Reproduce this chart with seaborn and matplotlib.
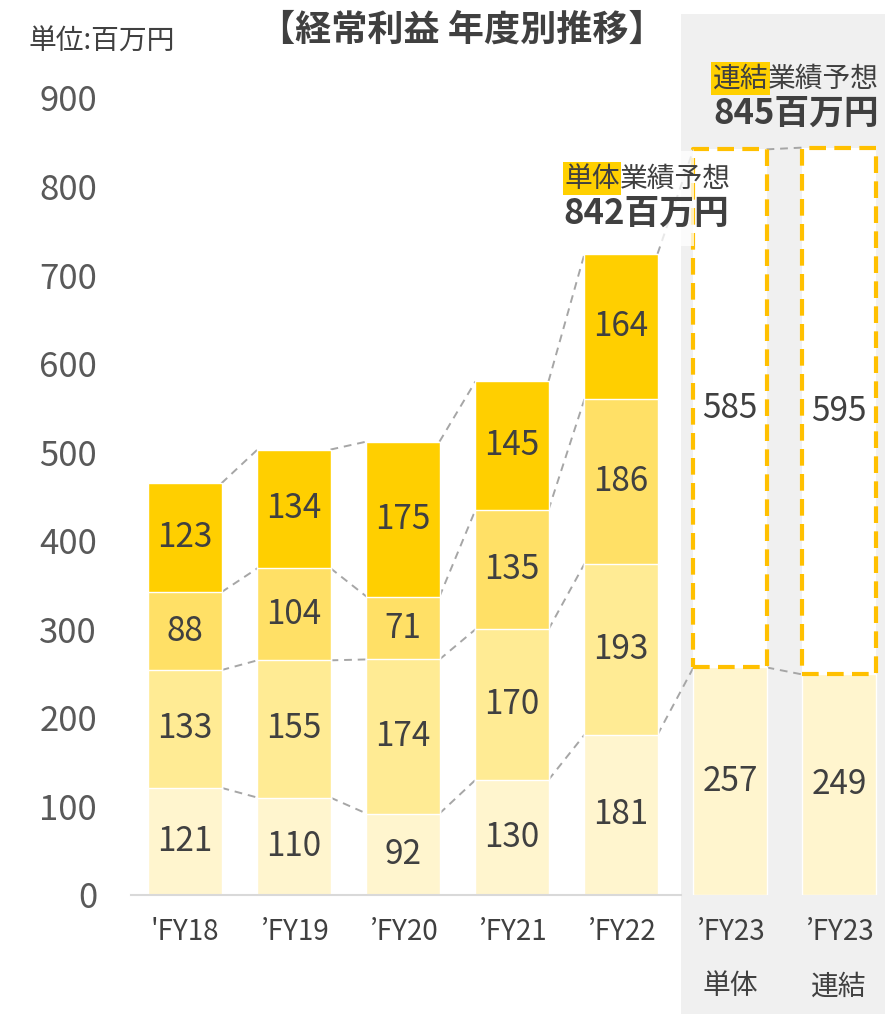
import pandas as pd
import matplotlib.pyplot as plt
import matplotlib.transforms as mtransforms
from matplotlib.patches import Rectangle
import seaborn as sns

# Data (百万円)
years = ["'FY18", "’FY19", "’FY20", "’FY21", "’FY22", "’FY23\n単体", "’FY23\n連結"]
q1 = [121, 110, 92, 130, 181, 257, 249]
q2 = [133, 155, 174, 170, 193]
q3 = [88, 104, 71, 135, 186]
q4 = [123, 134, 175, 145, 164]
rest = [585, 595]          # forecast remainder above Q1 for FY23
forecast_labels = ["842百万円", "845百万円"]
yticks = [0, 100, 200, 300, 400, 500, 600, 700, 800, 900]

colors = ["#FFF5CE", "#FFEB94", "#FFE066", "#FFCF00"]
text_color = "#404040"
bar_w = 0.67

sns.set_style("white")
plt.rcParams['font.family'] = ['Noto Sans CJK JP', 'DejaVu Sans']

fig = plt.figure(figsize=(8.85, 10.14), dpi=100)
ax = fig.add_axes([130.5 / 885, 119 / 1014, 763 / 885, 797 / 1014])
ax.set_facecolor("none")

# gray background behind FY23 columns
trans = mtransforms.blended_transform_factory(ax.transData, fig.transFigure)
fig.patches.append(Rectangle((4.55, 0), 3, 1 - 14 / 1014, transform=trans,
                             facecolor="#F0F0F0", edgecolor="none", zorder=-10))

# stacked layers (cumulative, tallest first)
hist = pd.DataFrame({"year": years[:5], "q1": q1[:5], "q2": q2, "q3": q3, "q4": q4})
hist["c1"] = hist["q1"]
hist["c2"] = hist["c1"] + hist["q2"]
hist["c3"] = hist["c2"] + hist["q3"]
hist["c4"] = hist["c3"] + hist["q4"]

for col, c in zip(["c4", "c3", "c2"], colors[::-1]):
    sns.barplot(data=hist, x="year", y=col, order=years, color=c,
                width=bar_w, saturation=1, ax=ax, zorder=2)
q1_df = pd.DataFrame({"year": years, "q1": q1})
sns.barplot(data=q1_df, x="year", y="q1", order=years, color=colors[0],
            width=bar_w, saturation=1, ax=ax, zorder=2)

# forecast boxes (remaining part above Q1)
fc_pos = [5, 6]
tops = [a + r for a, r in zip(q1[5:], rest)]
ax.bar(fc_pos, rest, bottom=q1[5:], width=bar_w, facecolor="white",
       edgecolor="#FFC000", linewidth=3, linestyle=(0, (4, 2)),
       joinstyle="round", zorder=3)

# value labels
for i in range(5):
    bottoms = [0, hist["c1"][i], hist["c2"][i], hist["c3"][i]]
    for b, v in zip(bottoms, [q1[i], q2[i], q3[i], q4[i]]):
        ax.text(i, b + v / 2, str(v), ha="center", va="center",
                fontsize=24, color=text_color, zorder=5)
for j, p in enumerate(fc_pos):
    ax.text(p, q1[p] / 2, str(q1[p]), ha="center", va="center",
            fontsize=24, color=text_color, zorder=5)
    ax.text(p, q1[p] + rest[j] / 2, str(rest[j]), ha="center", va="center",
            fontsize=24, color=text_color, zorder=5)

# dashed connector lines
levels = [list(hist[c]) for c in ["c1", "c2", "c3", "c4"]]
line_kw = dict(color="#A6A6A6", linestyle=(0, (4, 3)), linewidth=1.4, zorder=1)
for i in range(4):
    for lv in levels:
        ax.plot([i + bar_w / 2, i + 1 - bar_w / 2], [lv[i], lv[i + 1]], **line_kw)
ax.plot([4 + bar_w / 2, 5 - bar_w / 2], [levels[0][4], q1[5]], **line_kw)
ax.plot([4 + bar_w / 2, 5 - bar_w / 2], [levels[3][4], tops[0]], **line_kw)
ax.plot([5 + bar_w / 2, 6 - bar_w / 2], [q1[5], q1[6]], **line_kw)
ax.plot([5 + bar_w / 2, 6 - bar_w / 2], [tops[0], tops[1]], **line_kw)

# axes styling
ax.set_xlim(-0.5, 6.5)
ax.set_ylim(0, 900)
ax.set_yticks(yticks)
ax.set_yticklabels([str(t) for t in yticks], fontsize=25, color="#595959")
ax.set_xticks(range(len(years)))
ax.set_xticklabels(years, fontsize=20, color=text_color, linespacing=2.05)
ax.tick_params(axis="both", length=0)
ax.tick_params(axis="y", pad=24)
ax.tick_params(axis="x", pad=16)
ax.set_xlabel("")
ax.set_ylabel("")
for s in ["top", "right", "left"]:
    ax.spines[s].set_visible(False)
ax.spines["bottom"].set_color("#D9D9D9")
ax.spines["bottom"].set_linewidth(1.5)
ax.spines["bottom"].set_bounds(-0.5, 4.55)

# translucent white panel behind the 単体 annotation
ax.add_patch(Rectangle((3.45, 733), 4.67 - 3.45, 840 - 733, facecolor="white",
                       edgecolor="none", alpha=0.75, zorder=4))

# forecast annotations
hl = dict(boxstyle="square,pad=0.05", facecolor="#FFD000", edgecolor="none")
ax.text(3.99, 809, "単体", ha="right", va="center", fontsize=20,
        color=text_color, bbox=hl, zorder=6)
ax.text(3.99, 809, "業績予想", ha="left", va="center", fontsize=20,
        color=text_color, zorder=6)
ax.text(4.23, 770, forecast_labels[0], ha="center", va="center", fontsize=25,
        fontweight="bold", color=text_color, zorder=6)
ax.text(5.35, 922, "連結", ha="right", va="center", fontsize=20,
        color=text_color, bbox=hl, zorder=6, clip_on=False)
ax.text(5.35, 922, "業績予想", ha="left", va="center", fontsize=20,
        color=text_color, zorder=6, clip_on=False)
ax.text(5.61, 883, forecast_labels[1], ha="center", va="center", fontsize=25,
        fontweight="bold", color=text_color, zorder=6, clip_on=False)

# title and unit
fig.text(462 / 885, 1 - 30 / 1014, "【経常利益 年度別推移】", ha="center",
         va="center", fontsize=26, fontweight="bold", color=text_color)
fig.text(28 / 885, 1 - 42 / 1014, "単位:百万円", ha="left", va="center",
         fontsize=20, color=text_color)

fig.savefig("out.png", dpi=100)
